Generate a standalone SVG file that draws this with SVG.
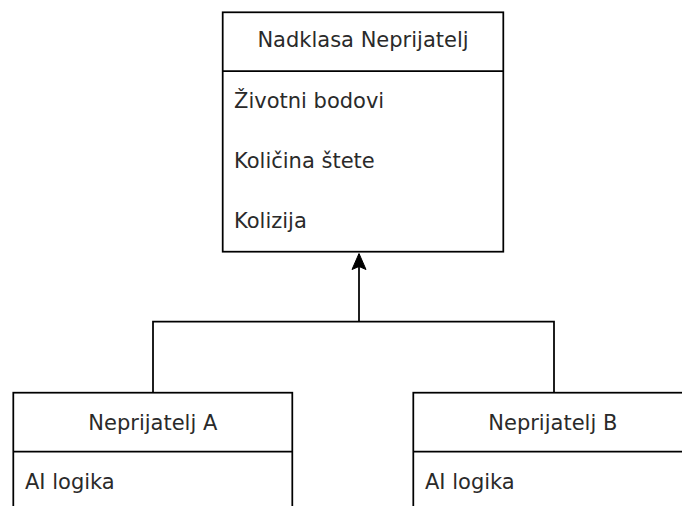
<svg xmlns="http://www.w3.org/2000/svg" width="682" height="506" viewBox="0 0 682 506">
<style>
.box{fill:#fff;stroke:#000;stroke-width:1.75}
.sep{stroke:#000;stroke-width:1.75;fill:none}
.t{font-family:"DejaVu Sans",sans-serif;font-size:21px;fill:#2a2a2a}
.c{text-anchor:middle}
.edge{fill:none;stroke:#000;stroke-width:1.75}
</style>
<defs>
<marker id="arr" markerUnits="userSpaceOnUse" markerWidth="16" markerHeight="20" refX="16" refY="7" orient="auto" viewBox="0 0 16 14">
<path d="M0 0 L16 7 L0 14 L3 7 Z" fill="#000" stroke="#000" stroke-width="1"/>
</marker>
</defs>
<rect width="682" height="506" fill="#fff"/>
<g id="connectors">
<path class="edge" d="M153 392.7 V321.7 H554 V392.7"/>
<path class="edge" d="M359 321.7 V253.5" marker-end="url(#arr)"/>
</g>
<g id="nadklasa">
<rect class="box" x="222.7" y="12.3" width="280.6" height="239.4"/>
<line class="sep" x1="222.7" y1="71" x2="503.3" y2="71"/>
<text class="t c" x="363" y="47">Nadklasa Neprijatelj</text>
<text class="t" x="234" y="108">Životni bodovi</text>
<text class="t" x="234" y="168">Količina štete</text>
<text class="t" x="234" y="228">Kolizija</text>
</g>
<g id="neprijateljA">
<rect class="box" x="13.3" y="392.7" width="279" height="200"/>
<line class="sep" x1="13.3" y1="451.7" x2="292.3" y2="451.7"/>
<text class="t c" x="152.8" y="429.5">Neprijatelj A</text>
<text class="t" x="25" y="489.3">AI logika</text>
</g>
<g id="neprijateljB">
<rect class="box" x="413.3" y="392.7" width="279" height="200"/>
<line class="sep" x1="413.3" y1="451.7" x2="692.3" y2="451.7"/>
<text class="t c" x="552.8" y="429.5">Neprijatelj B</text>
<text class="t" x="425" y="489.3">AI logika</text>
</g>
</svg>
